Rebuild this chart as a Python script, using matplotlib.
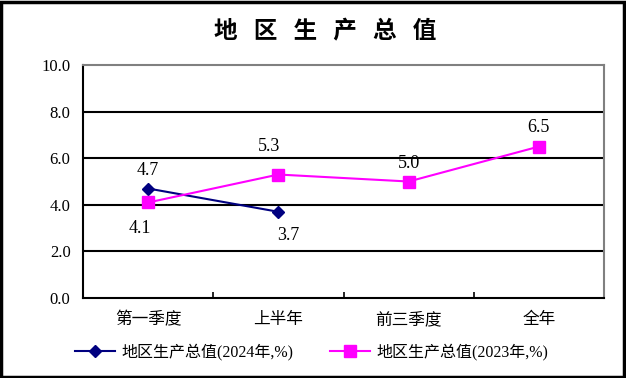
import numpy as np
import matplotlib.pyplot as plt
from matplotlib.patches import Rectangle

plt.rcParams['font.family'] = ['Liberation Serif', 'Noto Sans CJK SC']

# Data
categories = ['第一季度', '上半年', '前三季度', '全年']
gdp_2024 = [4.7, 3.7]
gdp_2023 = [4.1, 5.3, 5.0, 6.5]
label_2024 = '地区生产总值(2024年,%)'
label_2023 = '地区生产总值(2023年,%)'
yticks = [0, 2, 4, 6, 8, 10]

# label offsets in points
off_2024 = [(0, 13), (7, -17)]
off_2023 = [(-6, -19), (-7, 20), (0, 13), (0, 14)]

fig = plt.figure(figsize=(6.26, 3.78), dpi=100)
ax = fig.add_axes([0.1326, 0.2116, 0.8323, 0.6164])

x = np.arange(len(categories)) + 0.5

# gridlines
for v in yticks[1:-1]:
    ax.axhline(v, color='black', lw=1.5, zorder=1)

ax.plot(x[:len(gdp_2024)], gdp_2024, color='#000080', lw=1.5, marker='D',
        markersize=6, label=label_2024, zorder=3)
ax.plot(x, gdp_2023, color='#FF00FF', lw=1.5, marker='s',
        markersize=8, label=label_2023, zorder=3)

# value labels
for xi, v, o in zip(x, gdp_2024, off_2024):
    ax.annotate(f'{v:.1f}', (xi, v), xytext=o, textcoords='offset points',
                ha='center', va='center', fontsize=13)
for xi, v, o in zip(x, gdp_2023, off_2023):
    ax.annotate(f'{v:.1f}', (xi, v), xytext=o, textcoords='offset points',
                ha='center', va='center', fontsize=13)

ax.set_xlim(0, 4)
ax.set_ylim(0, 10)
ax.set_yticks(yticks)
ax.set_yticklabels([f'{v:.1f}' for v in yticks], fontsize=12)
ax.set_xticks(x)
ax.set_xticklabels(categories, fontsize=12)
ax.set_xticks([1, 2, 3], minor=True)
ax.tick_params(axis='x', which='major', length=0, pad=10)
ax.tick_params(axis='x', which='minor', direction='in', length=4, width=1.2)
ax.tick_params(axis='y', length=0, pad=9)

for s in ['left', 'bottom']:
    ax.spines[s].set_color('black')
    ax.spines[s].set_linewidth(1.5)
for s in ['top', 'right']:
    ax.spines[s].set_color('gray')
    ax.spines[s].set_linewidth(1.5)

fig.text(0.52, 0.918, '地   区   生   产   总   值', ha='center', va='center',
         fontsize=17, fontweight='bold', family=['Noto Sans CJK SC'])

fig.legend(loc='center', bbox_to_anchor=(0.498, 0.068), ncol=2, frameon=False,
           fontsize=11.5, handlelength=2.5, columnspacing=2.3, handletextpad=0.4)

fig.patches.append(Rectangle((0.002, 0.003), 0.995, 0.993, transform=fig.transFigure,
                             fill=False, edgecolor='black', lw=2.5))

fig.savefig('out.png', dpi=100)
